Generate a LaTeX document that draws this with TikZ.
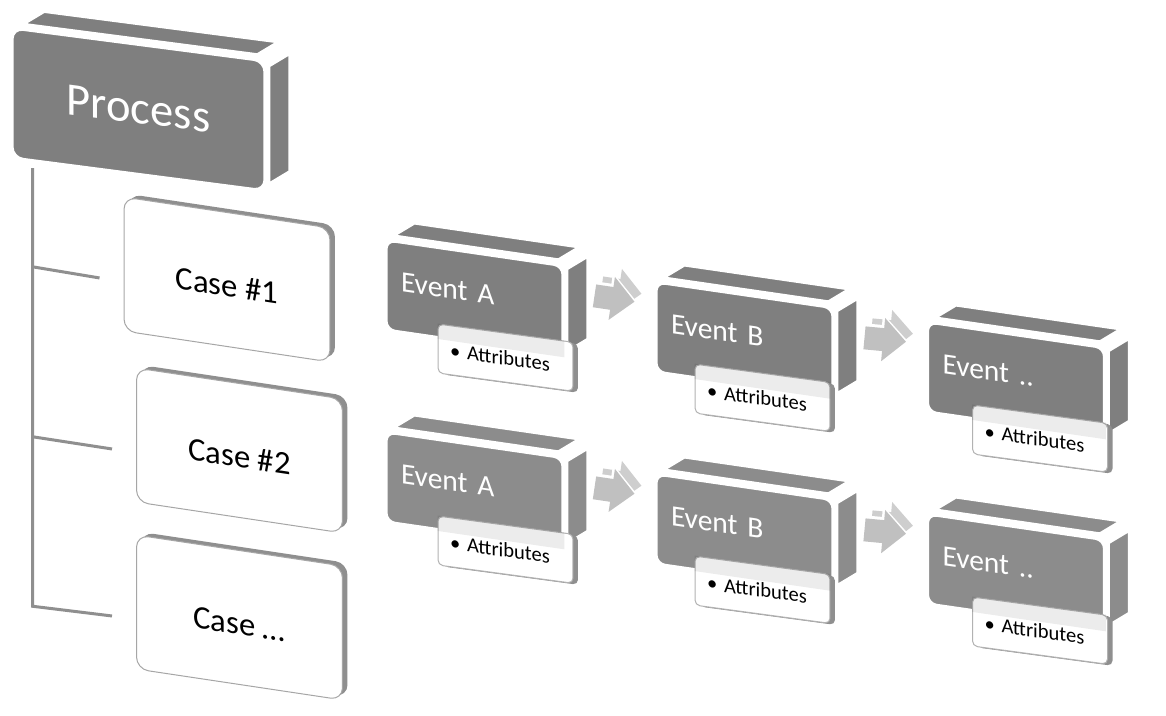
\documentclass[tikz,border=0pt]{standalone}
\usepackage{fontspec}
\setmainfont{Carlito}
\usetikzlibrary{calc,shadows,arrows.meta}
\definecolor{boxgray}{RGB}{127,127,127}
\definecolor{boxgraylight}{RGB}{140,140,140}
\definecolor{linegray}{RGB}{143,143,143}
\definecolor{arrowgray}{RGB}{192,192,192}
\definecolor{arrowtop}{RGB}{206,206,206}

% top and right face of a block node
\newcommand\blockfaces[2]{%
  \filldraw[sideface, fill=#2]
    ($(#1.north west)!0.05!(#1.north east)+(1,-4)$) -- ++(20,-12)
    -- ($(#1.north west)!0.96!(#1.north east)+(21,-16)$)
    -- ($(#1.north west)!0.96!(#1.north east)+(1,-4)$) -- cycle;
  \filldraw[sideface, fill=#2]
    ($(#1.north east)!0.05!(#1.south east)+(3,0)$) -- ++(20,-12)
    -- ($(#1.north east)!0.93!(#1.south east)+(23,-12)$)
    -- ($(#1.north east)!0.93!(#1.south east)+(3,0)$) -- cycle;
}

\begin{document}
\begin{tikzpicture}[x=0.02cm, y=-0.02cm,
  process/.style={fill=boxgray, draw=white, line width=0.06cm, rounded corners=0.22cm, text=white,
    font=\fontsize{26.5}{30}\selectfont, minimum width=5.06cm, minimum height=2.6cm,
    text height=0.56cm, text depth=0pt, yslant=-0.13, transform shape},
  casebox/.style={fill=white, draw=black!35, line width=0.02cm, rounded corners=0.24cm,
    font=\fontsize{18.6}{22}\selectfont, minimum width=4.12cm, minimum height=2.68cm,
    text height=0.68cm, text depth=0pt, yslant=-0.15, transform shape,
    copy shadow={shadow xshift=0.1cm, shadow yshift=0.06cm, fill=linegray, draw=none}},
  event/.style={draw=white, line width=0.06cm, rounded corners=0.18cm, text=white,
    font=\fontsize{16.8}{20}\selectfont, text width=2.94cm, inner xsep=0.3cm, inner ysep=0pt,
    text height=0.98cm, text depth=0.82cm, align=left, yslant=-0.145, transform shape},
  attr/.style={fill=white, draw=black!30, line width=0.02cm, rounded corners=0.1cm,
    font=\fontsize{11.7}{14}\selectfont, text width=2.22cm, inner xsep=0.24cm, inner ysep=0pt,
    text height=0.64cm, text depth=0.34cm, align=left, yslant=-0.135, transform shape,
    copy shadow={shadow xshift=0.1cm, shadow yshift=-0.03cm, fill=linegray, draw=none}},
  sideface/.style={draw=white, line width=0.04cm, line join=round},
  overlap/.style={fill=black, fill opacity=0.075},
  treeline/.style={draw=linegray, line width=0.06cm},
  flowarrow/.style={draw=arrowgray, line width=0.46cm, -{Triangle[length=0.46cm,width=0.84cm]}},
  flowgap/.style={draw=white, line width=0.58cm, -{Triangle[length=0.56cm,width=1cm]}, shorten >=-0.05cm},
  flowtop/.style={draw=arrowtop, line width=0.46cm, -{Triangle[length=0.46cm,width=0.84cm]}}
]
\useasboundingbox (0,0) rectangle (1166,716);

% Process block
\node[process] (proc) at (138.5,109.4) {Process};
\blockfaces{proc}{boxgray}

% Cases
\node[casebox] (case1) at (227,279.5) {Case \#1};
\node[casebox] (case2) at (239.5,450.5) {Case \#2};
\node[casebox] (case3) at (239.5,617.5) {Case …};

% Tree lines
\coordinate (root) at ([shift={(22,9)}]proc.south west);
\coordinate (b1) at ([shift={(-24,14)}]case1.west);
\coordinate (b2) at ([shift={(-24,14)}]case2.west);
\coordinate (b3) at ([shift={(-24,14)}]case3.west);
\draw[treeline] (root) -- ++(0,438) -- (b3);
\draw[treeline] (b1) -- ++(-66,-11);
\draw[treeline] (b2) -- ++(-78,-12);

% Events with attributes
\foreach \r/\dy/\shade in {1/0/boxgray, 2/192/boxgraylight}{
  \foreach \c/\x/\y/\dx/\label in {A/474.5/297.8/52/Event A, B/744.5/339.8/39/Event B, C/1016/379.8/45/Event ..}{
    \node[event, fill=\shade] (ev\c\r) at (\x,\y+\dy) {\label};
    \blockfaces{ev\c\r}{\shade}
    \node[attr] (at\c\r) at ([shift={(\dx-21,52.3+0.145*\dx)}]ev\c\r.center) {• Attributes};
    \begin{scope}
      \clip (ev\c\r.north west) -- (ev\c\r.north east) -- (ev\c\r.south east) -- (ev\c\r.south west) -- cycle;
      \fill[overlap] (at\c\r.north west) -- (at\c\r.north east) -- (at\c\r.south east) -- (at\c\r.south west) -- cycle;
    \end{scope}
  }
}

% Flow arrows
\foreach \r in {1,2}{
  \foreach \a/\b in {A/B, B/C}{
    \draw[flowtop] ([shift={(37,-23)}]ev\a\r.east) -- ([shift={(-13,-33)}]ev\b\r.west);
    \draw[flowgap] ([shift={(30,-15)}]ev\a\r.east) -- ([shift={(-20,-25)}]ev\b\r.west);
    \draw[flowarrow] ([shift={(30,-15)}]ev\a\r.east) -- ([shift={(-20,-25)}]ev\b\r.west);
  }
}
\end{tikzpicture}
\end{document}
